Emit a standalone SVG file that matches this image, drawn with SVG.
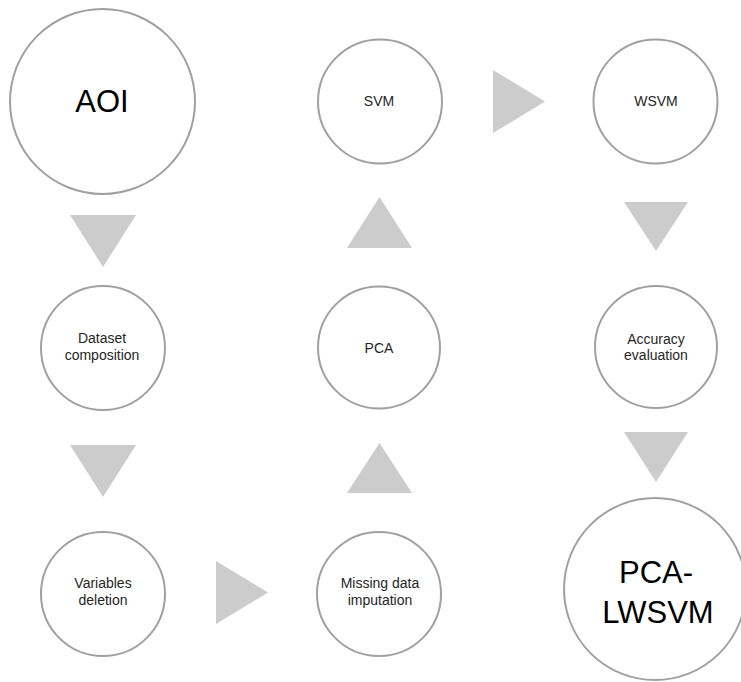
<svg xmlns="http://www.w3.org/2000/svg" width="741" height="682" viewBox="0 0 741 682">
<style>
.c{fill:#fff;stroke:#a0a0a0;stroke-width:2}
.t{font-family:"Liberation Sans",Arial,sans-serif;font-size:14px;fill:#262626;text-anchor:middle}
.b{font-family:"Liberation Sans",Arial,sans-serif;fill:#000;text-anchor:middle}
.a{fill:#cccccc}
</style>
<rect width="741" height="682" fill="#fff"/>
<g id="connectors">
<polygon class="a" points="70,215 136,215 103,267"/>
<polygon class="a" points="70,445 136,445 103,497"/>
<polygon class="a" points="216,561 216,624 268,592.5"/>
<polygon class="a" points="347,493 412,493 379.5,443"/>
<polygon class="a" points="347,248 412,248 379.5,197"/>
<polygon class="a" points="493,70 493,133 545,101.5"/>
<polygon class="a" points="624,202 688,202 656,251"/>
<polygon class="a" points="624,432 688,432 656,482"/>
</g>
<g id="aoi"><circle class="c" cx="102.5" cy="101.5" r="92.5"/><text class="b" x="102" y="112" font-size="31">AOI</text></g>
<g id="svm"><circle class="c" cx="380" cy="101.5" r="62"/><text class="t" x="379" y="106">SVM</text></g>
<g id="wsvm"><circle class="c" cx="655.5" cy="101.5" r="62"/><text class="t" x="656" y="106">WSVM</text></g>
<g id="dataset"><circle class="c" cx="103" cy="348" r="62"/><text class="t" x="102" y="343">Dataset</text><text class="t" x="102" y="360">composition</text></g>
<g id="pca"><circle class="c" cx="379" cy="347.5" r="61"/><text class="t" x="379" y="353">PCA</text></g>
<g id="accuracy"><circle class="c" cx="656" cy="347" r="61"/><text class="t" x="656" y="344">Accuracy</text><text class="t" x="656" y="360">evaluation</text></g>
<g id="variables"><circle class="c" cx="103" cy="594" r="62"/><text class="t" x="103" y="588">Variables</text><text class="t" x="103" y="605">deletion</text></g>
<g id="missing"><circle class="c" cx="379" cy="594" r="62"/><text class="t" x="380" y="588">Missing data</text><text class="t" x="380" y="605">imputation</text></g>
<g id="pcalwsvm"><circle class="c" cx="655" cy="589" r="91"/><text class="b" x="656" y="583" font-size="31">PCA-</text><text class="b" x="658" y="623" font-size="31">LWSVM</text></g>
</svg>
